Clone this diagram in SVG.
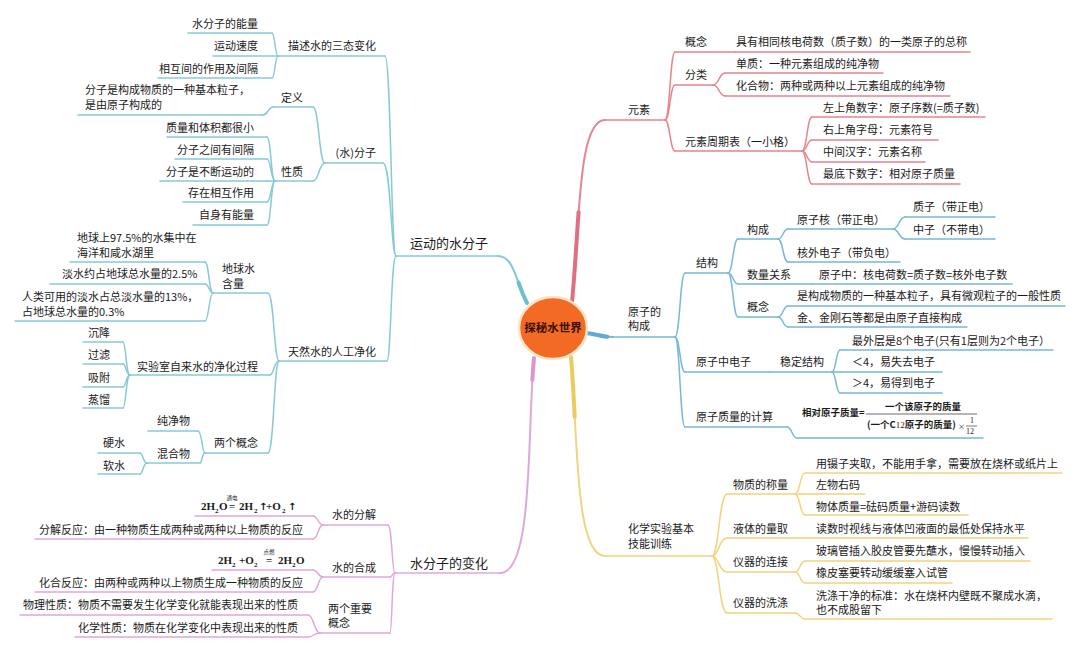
<svg xmlns="http://www.w3.org/2000/svg" width="1080" height="652" viewBox="0 0 1080 652">
<style>
.t{font-family:"Noto Sans CJK SC","Noto Sans",sans-serif;font-size:11px;fill:#1a1a1a}
.tm{font-size:13px}
.e{text-anchor:end}
.fm{font-family:"Liberation Serif","Noto Sans CJK SC",serif;font-weight:bold;font-size:11px;fill:#1a1a1a}
.ar{font-family:"DejaVu Sans",sans-serif;font-weight:bold;font-size:10px}
.sub{font-size:7px}
.fb{font-family:"Noto Sans CJK SC",sans-serif;font-weight:bold;font-size:9.5px;fill:#1a1a1a}
.u,.c{fill:none;stroke-width:1.5;stroke-linecap:round}
.teal{stroke:#86cad3}
.pink{stroke:#dfa8d7}
.red{stroke:#e4858f}
.blue{stroke:#78b7da}
.yel{stroke:#f1d47e}
.m1{fill:none;stroke-width:2;stroke-linecap:round}
.m2{fill:none;stroke-width:4;stroke-linecap:round;stroke-dasharray:22 2000}
</style>
<rect width="1080" height="652" fill="#ffffff"/>

<g id="connectors">
<path class="m1 teal" d="M527 303 C516 282 514 256 498 256"/>
<path class="m2 teal" d="M527 303 C516 282 514 256 498 256" style="stroke:#6cc0cc"/>
<path class="m1 pink" d="M534 358 C527 430 534 573 500 573"/>
<path class="m2 pink" d="M534 358 C527 430 534 573 500 573" style="stroke:#d898cf"/>
<path class="m1 red" d="M572 302 C580 220 578 120 605 120"/>
<path class="m2 red" d="M572 302 C580 220 578 120 605 120" style="stroke:#de7080;stroke-dasharray:90 2000"/>
<path class="m1 blue" d="M586 333 C597 334 601 337 613 337"/>
<path class="m2 blue" d="M586 333 C597 334 601 337 613 337" style="stroke:#5eaad6"/>
<path class="m1 yel" d="M571 357 C578 440 575 556 605 556"/>
<path class="m2 yel" d="M571 357 C578 440 575 556 605 556" style="stroke:#eccb5e;stroke-dasharray:60 2000"/>

<path class="c teal" d="M396 256 C391 256 391 56 385 56"/>
<path class="c teal" d="M396 256 C391 256 391 163 383 163"/>
<path class="c teal" d="M396 256 C391 256 391 361 387 361"/>
<path class="c teal" d="M278 56 C275 56 275 33 272 33"/>
<path class="c teal" d="M278 56 L272 56"/>
<path class="c teal" d="M278 56 C275 56 275 78 272 78"/>
<path class="c teal" d="M325 163 C319 163 319 107 313 107"/>
<path class="c teal" d="M325 163 C319 163 319 181 313 181"/>
<path class="c teal" d="M273 107 C268 107 268 115 263 115"/>
<path class="c teal" d="M275 181 C271 181 271 137 267 137"/>
<path class="c teal" d="M275 181 C271 181 271 159 267 159"/>
<path class="c teal" d="M275 181 L267 181"/>
<path class="c teal" d="M275 181 C271 181 271 202 267 202"/>
<path class="c teal" d="M275 181 C271 181 271 225 267 225"/>
<path class="c teal" d="M279 361 C274 361 274 293 268 293"/>
<path class="c teal" d="M279 361 C274 361 274 375 270 375"/>
<path class="c teal" d="M279 361 C274 361 274 453 268 453"/>
<path class="c teal" d="M213 293 C209 293 209 262 205 262"/>
<path class="c teal" d="M213 293 C209 293 209 284 205 284"/>
<path class="c teal" d="M213 293 C209 293 209 321 205 321"/>
<path class="c teal" d="M130 375 C126 375 126 342 123 342"/>
<path class="c teal" d="M130 375 C126 375 126 364 123 364"/>
<path class="c teal" d="M130 375 C126 375 126 387 123 387"/>
<path class="c teal" d="M130 375 C126 375 126 408 123 408"/>
<path class="c teal" d="M205 453 C202 453 202 431 198 431"/>
<path class="c teal" d="M205 453 C202 453 202 463 200 463"/>
<path class="c teal" d="M147 463 C143 463 143 453 140 453"/>
<path class="c teal" d="M147 463 C143 463 143 474 140 474"/>

<path class="c pink" d="M395 573 C392 573 392 525 388 525"/>
<path class="c pink" d="M395 573 C392 573 392 577 390 577"/>
<path class="c pink" d="M395 573 C392 573 392 633 390 633"/>
<path class="c pink" d="M323 525 C318 525 318 516 313 516"/>
<path class="c pink" d="M323 525 C318 525 318 539 313 539"/>
<path class="c pink" d="M323 577 C318 577 318 570 313 570"/>
<path class="c pink" d="M323 577 C318 577 318 592 313 592"/>
<path class="c pink" d="M320 633 C314 633 314 615 308 615"/>
<path class="c pink" d="M320 633 C314 633 314 637 308 637"/>

<path class="c red" d="M665 120 C670 120 670 52 675 52"/>
<path class="c red" d="M665 120 C670 120 670 85 675 85"/>
<path class="c red" d="M665 120 C670 120 670 151 675 151"/>
<path class="c red" d="M713 85 C719 85 719 73 725 73"/>
<path class="c red" d="M713 85 C719 85 719 96 725 96"/>
<path class="c red" d="M802 151 C807 151 807 117 812 117"/>
<path class="c red" d="M802 151 C807 151 807 140 812 140"/>
<path class="c red" d="M802 151 C807 151 807 162 812 162"/>
<path class="c red" d="M802 151 C807 151 807 184 812 184"/>

<path class="c blue" d="M675 337 C680 337 680 273 685 273"/>
<path class="c blue" d="M675 337 C680 337 680 372 685 372"/>
<path class="c blue" d="M675 337 C680 337 680 427 685 427"/>
<path class="c blue" d="M728 273 C733 273 733 239 738 239"/>
<path class="c blue" d="M728 273 C733 273 733 284 738 284"/>
<path class="c blue" d="M728 273 C733 273 733 317 738 317"/>
<path class="c blue" d="M778 239 C783 239 783 229 788 229"/>
<path class="c blue" d="M778 239 C783 239 783 262 788 262"/>
<path class="c blue" d="M893 229 C899 229 899 217 905 217"/>
<path class="c blue" d="M893 229 C899 229 899 239 905 239"/>
<path class="c blue" d="M778 317 C783 317 783 306 788 306"/>
<path class="c blue" d="M778 317 C783 317 783 327 788 327"/>
<path class="c blue" d="M832 372 C836 372 836 350 840 350"/>
<path class="c blue" d="M832 372 L840 372"/>
<path class="c blue" d="M832 372 C836 372 836 393 840 393"/>
<path class="c blue" d="M787 427 C792 427 792 438 797 438"/>

<path class="c yel" d="M712 556 C719 556 719 494 727 494"/>
<path class="c yel" d="M712 556 C719 556 719 538 727 538"/>
<path class="c yel" d="M712 556 C719 556 719 572 727 572"/>
<path class="c yel" d="M712 556 C719 556 719 613 727 613"/>
<path class="c yel" d="M795 494 C800 494 800 473 805 473"/>
<path class="c yel" d="M795 494 L805 494"/>
<path class="c yel" d="M795 494 C800 494 800 515 805 515"/>
<path class="c yel" d="M795 572 C800 572 800 561 805 561"/>
<path class="c yel" d="M795 572 C800 572 800 583 805 583"/>
<path class="c yel" d="M795 613 C800 613 800 619 805 619"/>
</g>

<g id="center">
<ellipse cx="553" cy="328" rx="34" ry="31" fill="#f26a24" stroke="#fde3c6" stroke-width="2.5"/>
<text x="553" y="332" class="t" style="text-anchor:middle;font-weight:bold;font-size:11.5px;fill:#3a0f05">探秘水世界</text>
</g>

<g id="n-yundong"><text x="410" y="248" class="t tm">运动的水分子</text><line class="u teal" x1="396" y1="256" x2="498" y2="256"/></g>
<g id="n-santai"><text x="376" y="50" class="t e">描述水的三态变化</text><line class="u teal" x1="278" y1="56" x2="385" y2="56"/></g>
<g id="n-nengliang"><text x="258" y="28" class="t e">水分子的能量</text><line class="u teal" x1="188" y1="33" x2="272" y2="33"/></g>
<g id="n-sudu"><text x="258" y="50" class="t e">运动速度</text><line class="u teal" x1="213" y1="56" x2="272" y2="56"/></g>
<g id="n-zuoyong"><text x="258" y="73" class="t e">相互间的作用及间隔</text><line class="u teal" x1="158" y1="78" x2="272" y2="78"/></g>
<g id="n-fenzi"><text x="376" y="157" class="t e">(水)分子</text><line class="u teal" x1="325" y1="163" x2="383" y2="163"/></g>
<g id="n-dingyi"><text x="303" y="102" class="t e">定义</text><line class="u teal" x1="273" y1="107" x2="313" y2="107"/></g>
<g id="n-dingyi-c"><text x="85" y="94" class="t">分子是构成物质的一种基本粒子，</text><text x="85" y="109" class="t">是由原子构成的</text><line class="u teal" x1="78" y1="115" x2="263" y2="115"/></g>
<g id="n-xingzhi"><text x="303" y="176" class="t e">性质</text><line class="u teal" x1="275" y1="181" x2="313" y2="181"/></g>
<g id="n-xz1"><text x="254" y="132" class="t e">质量和体积都很小</text><line class="u teal" x1="167" y1="137" x2="267" y2="137"/></g>
<g id="n-xz2"><text x="254" y="154" class="t e">分子之间有间隔</text><line class="u teal" x1="175" y1="159" x2="267" y2="159"/></g>
<g id="n-xz3"><text x="254" y="176" class="t e">分子是不断运动的</text><line class="u teal" x1="160" y1="181" x2="267" y2="181"/></g>
<g id="n-xz4"><text x="254" y="197" class="t e">存在相互作用</text><line class="u teal" x1="183" y1="202" x2="267" y2="202"/></g>
<g id="n-xz5"><text x="254" y="219" class="t e">自身有能量</text><line class="u teal" x1="193" y1="225" x2="267" y2="225"/></g>
<g id="n-tianran"><text x="376" y="356" class="t e">天然水的人工净化</text><line class="u teal" x1="279" y1="361" x2="387" y2="361"/></g>
<g id="n-diqiu"><text x="222" y="273" class="t">地球水</text><text x="222" y="288" class="t">含量</text><line class="u teal" x1="213" y1="293" x2="268" y2="293"/></g>
<g id="n-dq1"><text x="77" y="242" class="t">地球上97.5%的水集中在</text><text x="77" y="257" class="t">海洋和咸水湖里</text><line class="u teal" x1="70" y1="262" x2="205" y2="262"/></g>
<g id="n-dq2"><text x="62" y="278" class="t">淡水约占地球总水量的2.5%</text><line class="u teal" x1="50" y1="284" x2="205" y2="284"/></g>
<g id="n-dq3"><text x="22" y="301" class="t">人类可用的淡水占总淡水量的13%，</text><text x="22" y="316" class="t">占地球总水量的0.3%</text><line class="u teal" x1="15" y1="321" x2="205" y2="321"/></g>
<g id="n-shiyan"><text x="258" y="371" class="t e">实验室自来水的净化过程</text><line class="u teal" x1="130" y1="375" x2="270" y2="375"/></g>
<g id="n-chenjiang"><text x="110" y="337" class="t e">沉降</text><line class="u teal" x1="83" y1="342" x2="123" y2="342"/></g>
<g id="n-guolv"><text x="110" y="359" class="t e">过滤</text><line class="u teal" x1="83" y1="364" x2="123" y2="364"/></g>
<g id="n-xifu"><text x="110" y="382" class="t e">吸附</text><line class="u teal" x1="83" y1="387" x2="123" y2="387"/></g>
<g id="n-zhengliu"><text x="110" y="404" class="t e">蒸馏</text><line class="u teal" x1="83" y1="408" x2="123" y2="408"/></g>
<g id="n-lianggegainian"><text x="258" y="447" class="t e">两个概念</text><line class="u teal" x1="205" y1="453" x2="268" y2="453"/></g>
<g id="n-chunjing"><text x="190" y="425" class="t e">纯净物</text><line class="u teal" x1="148" y1="431" x2="198" y2="431"/></g>
<g id="n-hunhe"><text x="190" y="458" class="t e">混合物</text><line class="u teal" x1="147" y1="463" x2="200" y2="463"/></g>
<g id="n-ying"><text x="125" y="447" class="t e">硬水</text><line class="u teal" x1="98" y1="453" x2="140" y2="453"/></g>
<g id="n-ruan"><text x="125" y="470" class="t e">软水</text><line class="u teal" x1="98" y1="474" x2="140" y2="474"/></g>

<g id="n-bianhua"><text x="410" y="568" class="t tm">水分子的变化</text><line class="u pink" x1="395" y1="573" x2="500" y2="573"/></g>
<g id="n-fenjie"><text x="376" y="519" class="t e">水的分解</text><line class="u pink" x1="323" y1="525" x2="388" y2="525"/></g>
<g id="n-fj-eq">
<text y="510" class="fm"><tspan x="201">2H</tspan><tspan x="215" dy="3" class="sub">2</tspan><tspan x="219" dy="-3">O</tspan><tspan x="229">=</tspan><tspan x="239">2H</tspan><tspan x="254" dy="3" class="sub">2</tspan><tspan x="259" dy="-3" class="ar">↑</tspan><tspan x="266">+O</tspan><tspan x="282" dy="3" class="sub">2</tspan><tspan x="288" dy="-3" class="ar">↑</tspan></text>
<text x="232" y="500" class="t" style="font-size:5.5px;text-anchor:middle">通电</text>
<line class="u pink" x1="195" y1="516" x2="313" y2="516"/></g>
<g id="n-fj-def"><text x="303" y="534" class="t e">分解反应：由一种物质生成两种或两种以上物质的反应</text><line class="u pink" x1="35" y1="539" x2="313" y2="539"/></g>
<g id="n-hecheng"><text x="376" y="572" class="t e">水的合成</text><line class="u pink" x1="323" y1="577" x2="390" y2="577"/></g>
<g id="n-hc-eq">
<text y="564" class="fm"><tspan x="218">2H</tspan><tspan x="232" dy="3" class="sub">2</tspan><tspan x="239" dy="-3">+O</tspan><tspan x="254" dy="3" class="sub">2</tspan><tspan x="266" dy="-3">=</tspan><tspan x="278">2H</tspan><tspan x="292" dy="3" class="sub">2</tspan><tspan x="296" dy="-3">O</tspan></text>
<text x="269" y="554" class="t" style="font-size:5.5px;text-anchor:middle">点燃</text>
<line class="u pink" x1="212" y1="570" x2="313" y2="570"/></g>
<g id="n-hc-def"><text x="303" y="587" class="t e">化合反应：由两种或两种以上物质生成一种物质的反应</text><line class="u pink" x1="35" y1="592" x2="313" y2="592"/></g>
<g id="n-zhongyao"><text x="328" y="613" class="t">两个重要</text><text x="328" y="627" class="t">概念</text><line class="u pink" x1="320" y1="633" x2="390" y2="633"/></g>
<g id="n-wuli"><text x="298" y="609" class="t e">物理性质：物质不需要发生化学变化就能表现出来的性质</text><line class="u pink" x1="20" y1="615" x2="308" y2="615"/></g>
<g id="n-huaxue"><text x="298" y="632" class="t e">化学性质：物质在化学变化中表现出来的性质</text><line class="u pink" x1="75" y1="637" x2="308" y2="637"/></g>

<g id="n-yuansu"><text x="628" y="114" class="t">元素</text><line class="u red" x1="605" y1="120" x2="665" y2="120"/></g>
<g id="n-ys-gainian"><text x="685" y="46" class="t">概念</text><line class="u red" x1="675" y1="52" x2="735" y2="52"/></g>
<g id="n-ys-gn-c"><text x="736" y="46" class="t">具有相同核电荷数（质子数）的一类原子的总称</text><line class="u red" x1="735" y1="52" x2="970" y2="52"/></g>
<g id="n-fenlei"><text x="685" y="79" class="t">分类</text><line class="u red" x1="675" y1="85" x2="713" y2="85"/></g>
<g id="n-danzhi"><text x="736" y="68" class="t">单质：一种元素组成的纯净物</text><line class="u red" x1="725" y1="73" x2="883" y2="73"/></g>
<g id="n-huahewu"><text x="736" y="90" class="t">化合物：两种或两种以上元素组成的纯净物</text><line class="u red" x1="725" y1="96" x2="950" y2="96"/></g>
<g id="n-zhouqi"><text x="685" y="146" class="t">元素周期表（一小格）</text><line class="u red" x1="675" y1="151" x2="802" y2="151"/></g>
<g id="n-zq1"><text x="823" y="112" class="t">左上角数字：原子序数(=质子数)</text><line class="u red" x1="812" y1="117" x2="985" y2="117"/></g>
<g id="n-zq2"><text x="823" y="134" class="t">右上角字母：元素符号</text><line class="u red" x1="812" y1="140" x2="938" y2="140"/></g>
<g id="n-zq3"><text x="823" y="156" class="t">中间汉字：元素名称</text><line class="u red" x1="812" y1="162" x2="925" y2="162"/></g>
<g id="n-zq4"><text x="823" y="178" class="t">最底下数字：相对原子质量</text><line class="u red" x1="812" y1="184" x2="960" y2="184"/></g>

<g id="n-yuanzi"><text x="628" y="316" class="t">原子的</text><text x="628" y="330" class="t">构成</text><line class="u blue" x1="613" y1="337" x2="675" y2="337"/></g>
<g id="n-jiegou"><text x="696" y="267" class="t">结构</text><line class="u blue" x1="685" y1="273" x2="728" y2="273"/></g>
<g id="n-goucheng"><text x="747" y="234" class="t">构成</text><line class="u blue" x1="738" y1="239" x2="778" y2="239"/></g>
<g id="n-yuanzihe"><text x="797" y="224" class="t">原子核（带正电）</text><line class="u blue" x1="788" y1="229" x2="893" y2="229"/></g>
<g id="n-zhizi"><text x="913" y="211" class="t">质子（带正电）</text><line class="u blue" x1="905" y1="217" x2="995" y2="217"/></g>
<g id="n-zhongzi"><text x="913" y="234" class="t">中子（不带电）</text><line class="u blue" x1="905" y1="239" x2="995" y2="239"/></g>
<g id="n-hewai"><text x="797" y="257" class="t">核外电子（带负电）</text><line class="u blue" x1="788" y1="262" x2="900" y2="262"/></g>
<g id="n-shuliang"><text x="747" y="279" class="t">数量关系</text><line class="u blue" x1="738" y1="284" x2="812" y2="284"/></g>
<g id="n-shuliang-c"><text x="819" y="279" class="t">原子中：核电荷数=质子数=核外电子数</text><line class="u blue" x1="812" y1="284" x2="1012" y2="284"/></g>
<g id="n-yz-gainian"><text x="747" y="311" class="t">概念</text><line class="u blue" x1="738" y1="317" x2="778" y2="317"/></g>
<g id="n-gn1"><text x="797" y="300" class="t">是构成物质的一种基本粒子，具有微观粒子的一般性质</text><line class="u blue" x1="788" y1="306" x2="1065" y2="306"/></g>
<g id="n-gn2"><text x="797" y="322" class="t">金、金刚石等都是由原子直接构成</text><line class="u blue" x1="788" y1="327" x2="967" y2="327"/></g>
<g id="n-dianzi"><text x="696" y="366" class="t">原子中电子</text><line class="u blue" x1="685" y1="372" x2="770" y2="372"/></g>
<g id="n-wending"><text x="780" y="366" class="t">稳定结构</text><line class="u blue" x1="770" y1="372" x2="832" y2="372"/></g>
<g id="n-wd1"><text x="852" y="345" class="t">最外层是8个电子(只有1层则为2个电子）</text><line class="u blue" x1="840" y1="350" x2="1053" y2="350"/></g>
<g id="n-wd2"><text x="852" y="366" class="t">＜4，易失去电子</text><line class="u blue" x1="840" y1="372" x2="942" y2="372"/></g>
<g id="n-wd3"><text x="852" y="387" class="t">＞4，易得到电子</text><line class="u blue" x1="840" y1="393" x2="942" y2="393"/></g>
<g id="n-jisuan"><text x="696" y="421" class="t">原子质量的计算</text><line class="u blue" x1="685" y1="427" x2="787" y2="427"/></g>
<g id="n-formula">
<text x="802" y="416" class="fb">相对原子质量=</text>
<text x="885" y="410" class="fb">一个该原子的质量</text>
<line x1="866" y1="414" x2="977" y2="414" stroke="#444" stroke-width="0.8"/>
<text x="867" y="428" class="fb">(一个C<tspan style="font-family:'Liberation Serif',serif;font-weight:normal;font-size:9px">12</tspan>原子的质量)</text>
<text x="958" y="429" class="t" style="font-size:7px">×</text>
<text x="970" y="423" class="fm" style="font-size:8px;font-weight:normal">1</text>
<line x1="966" y1="426" x2="977" y2="426" stroke="#444" stroke-width="0.7"/>
<text x="966" y="434" class="fm" style="font-size:8px;font-weight:normal">12</text>
<line class="u blue" x1="797" y1="438" x2="983" y2="438"/></g>

<g id="n-jineng"><text x="628" y="533" class="t">化学实验基本</text><text x="628" y="548" class="t">技能训练</text><line class="u yel" x1="605" y1="556" x2="712" y2="556"/></g>
<g id="n-chengliang"><text x="733" y="489" class="t">物质的称量</text><line class="u yel" x1="727" y1="494" x2="795" y2="494"/></g>
<g id="n-cl1"><text x="816" y="468" class="t">用镊子夹取，不能用手拿，需要放在烧杯或纸片上</text><line class="u yel" x1="805" y1="473" x2="1062" y2="473"/></g>
<g id="n-cl2"><text x="816" y="489" class="t">左物右码</text><line class="u yel" x1="805" y1="494" x2="865" y2="494"/></g>
<g id="n-cl3"><text x="816" y="511" class="t">物体质量=砝码质量+游码读数</text><line class="u yel" x1="805" y1="515" x2="968" y2="515"/></g>
<g id="n-liangqu"><text x="733" y="533" class="t">液体的量取</text><line class="u yel" x1="727" y1="538" x2="805" y2="538"/></g>
<g id="n-lq1"><text x="816" y="533" class="t">读数时视线与液体凹液面的最低处保持水平</text><line class="u yel" x1="805" y1="538" x2="1028" y2="538"/></g>
<g id="n-lianjie"><text x="733" y="566" class="t">仪器的连接</text><line class="u yel" x1="727" y1="572" x2="795" y2="572"/></g>
<g id="n-lj1"><text x="816" y="555" class="t">玻璃管插入胶皮管要先蘸水，慢慢转动插入</text><line class="u yel" x1="805" y1="561" x2="1030" y2="561"/></g>
<g id="n-lj2"><text x="816" y="577" class="t">橡皮塞要转动缓缓塞入试管</text><line class="u yel" x1="805" y1="583" x2="952" y2="583"/></g>
<g id="n-xidi"><text x="733" y="607" class="t">仪器的洗涤</text><line class="u yel" x1="727" y1="613" x2="795" y2="613"/></g>
<g id="n-xd1"><text x="816" y="600" class="t">洗涤干净的标准：水在烧杯内壁既不聚成水滴，</text><text x="816" y="614" class="t">也不成股留下</text><line class="u yel" x1="805" y1="619" x2="1052" y2="619"/></g>
</svg>
